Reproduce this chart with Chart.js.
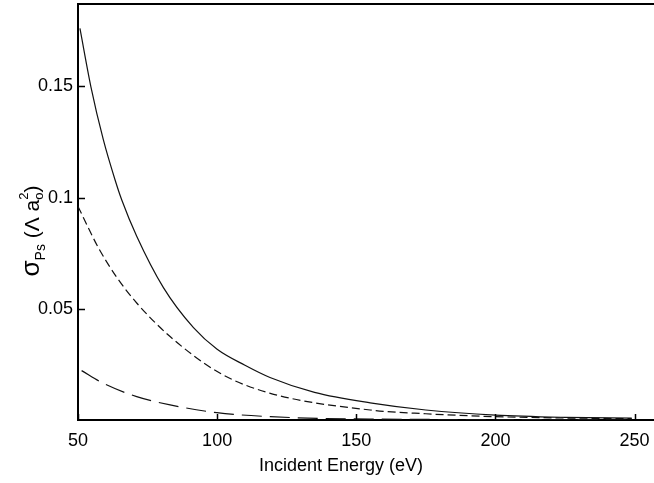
<!DOCTYPE html>
<html>
<head>
<meta charset="utf-8">
<script src="https://cdn.jsdelivr.net/npm/chart.js@4.4.1/dist/chart.umd.min.js"></script>
<style>
  html, body { margin: 0; padding: 0; background: #fff; }
  #wrap { width: 654px; height: 483px; position: relative; }
</style>
</head>
<body>
<div id="wrap"><canvas id="c" width="654" height="483"></canvas></div>
<script>
// Incident energy (eV) sample points and cross sections (pi a0^2)
const energySolid = [50.7, 54.6, 59.1, 63.3, 65.7, 71.1, 80.7, 91.5, 100, 110, 119, 135, 155, 175, 200, 225, 249];
const sigmaSolid  = [0.176, 0.150, 0.126, 0.108, 0.099, 0.0826, 0.0595, 0.0415, 0.0318, 0.0246, 0.0191, 0.0124, 0.0077, 0.0045, 0.0022, 0.0012, 0.0008];

const energyShort = [50, 57.3, 64, 71.1, 83.1, 101.1, 119.1, 155, 175, 200, 225, 249];
const sigmaShort  = [0.096, 0.0775, 0.064, 0.0526, 0.0375, 0.021, 0.012, 0.0045, 0.0028, 0.0015, 0.0009, 0.0006];

const energyLong = [51.3, 59.1, 71.1, 83.1, 99.9, 119.1, 155, 200, 249];
const sigmaLong  = [0.0222, 0.0165, 0.0105, 0.0068, 0.0033, 0.0015, 0.0004, 0.0002, 0.0001];

const xTicks = [50, 100, 150, 200, 250];
const yTicks = [0.05, 0.1, 0.15];
const xTitle = 'Incident Energy (eV)';

function pts(xs, ys) { return xs.map((x, i) => ({ x: x, y: ys[i] })); }

const FONT = '"Liberation Sans", Arial, sans-serif';

const framePlugin = {
  id: 'frame',
  afterDraw(chart) {
    const ctx = chart.ctx;
    const a = chart.chartArea;
    const xs = chart.scales.x, ys = chart.scales.y;
    ctx.save();
    ctx.strokeStyle = '#000';
    ctx.lineWidth = 2;
    ctx.beginPath();
    ctx.moveTo(a.left, a.top);
    ctx.lineTo(a.right, a.top);
    ctx.stroke();
    // inner tick marks
    ctx.lineWidth = 1.5;
    ctx.beginPath();
    yTicks.forEach(v => {
      const py = Math.round(ys.getPixelForValue(v)) + 0.5;
      ctx.moveTo(a.left, py); ctx.lineTo(a.left + 7, py);
    });
    xTicks.forEach(v => {
      const px = Math.round(xs.getPixelForValue(v)) + 0.5;
      ctx.moveTo(px, a.bottom); ctx.lineTo(px, a.bottom - 6);
    });
    ctx.stroke();
    // x-axis title
    ctx.fillStyle = '#000';
    ctx.font = '18px ' + FONT;
    ctx.textAlign = 'center';
    ctx.textBaseline = 'middle';
    ctx.fillText(xTitle, 341, 466);
    // y-axis title with subscripts / superscript
    ctx.textAlign = 'left';
    ctx.translate(32, 231);
    ctx.rotate(-Math.PI / 2);
    ctx.textBaseline = 'alphabetic';
    const parts = [
      { t: 'σ', f: '26px', dy: 0 },
      { t: 'Ps', f: '14px', dy: 6 },
      { t: ' (Λ a', f: '21px', dy: 0 },
      { t: 'o', f: '13px', dy: 4 },
      { t: '2', f: '13px', dy: -11, back: true },
      { t: ')', f: '21px', dy: 0 }
    ];
    let total = 0, widths = [];
    parts.forEach(p => {
      ctx.font = p.f + ' ' + FONT;
      const w = ctx.measureText(p.t).width;
      widths.push(w);
      if (!p.back) total += w;
    });
    let x = -total / 2;
    let prevW = 0;
    parts.forEach((p, i) => {
      ctx.font = p.f + ' ' + FONT;
      if (p.back) {
        ctx.fillText(p.t, x - prevW, 7 + p.dy);
        x = x - prevW + Math.max(prevW, widths[i]);
      } else {
        ctx.fillText(p.t, x, 7 + p.dy);
        x += widths[i];
        prevW = widths[i];
      }
    });
    ctx.restore();
  }
};

const lineStyle = { borderColor: '#111', borderWidth: 1.2, pointRadius: 0, fill: false, cubicInterpolationMode: 'monotone' };

new Chart(document.getElementById('c'), {
  type: 'line',
  data: {
    datasets: [
      Object.assign({ label: 'solid', data: pts(energySolid, sigmaSolid) }, lineStyle),
      Object.assign({ label: 'short dash', data: pts(energyShort, sigmaShort), borderDash: [8, 4] }, lineStyle),
      Object.assign({ label: 'long dash', data: pts(energyLong, sigmaLong), borderDash: [20, 8] }, lineStyle)
    ]
  },
  options: {
    responsive: false,
    animation: false,
    devicePixelRatio: 1,
    layout: { padding: { top: 4, right: 0, left: 0, bottom: 0 } },
    plugins: { legend: { display: false }, tooltip: { enabled: false } },
    scales: {
      x: {
        type: 'linear',
        min: 50, max: 257,
        afterFit(s) { s.height = 63; s.paddingLeft = 0; s.paddingRight = 0; },
        afterBuildTicks(s) { s.ticks = xTicks.map(v => ({ value: v })); },
        grid: { display: true, drawOnChartArea: false, drawTicks: false },
        border: { display: true, color: '#000', width: 2 },
        ticks: { color: '#000', padding: 10, font: { family: FONT, size: 18 }, maxRotation: 0 }
      },
      y: {
        type: 'linear',
        min: 0, max: 0.187,
        afterFit(s) { s.width = 78; s.paddingTop = 0; s.paddingBottom = 0; },
        afterBuildTicks(s) { s.ticks = yTicks.map(v => ({ value: v })); },
        grid: { display: true, drawOnChartArea: false, drawTicks: false },
        border: { display: true, color: '#000', width: 2 },
        ticks: { color: '#000', padding: 5, font: { family: FONT, size: 18 }, callback: v => String(v) }
      }
    }
  },
  plugins: [framePlugin]
});
</script>
</body>
</html>
